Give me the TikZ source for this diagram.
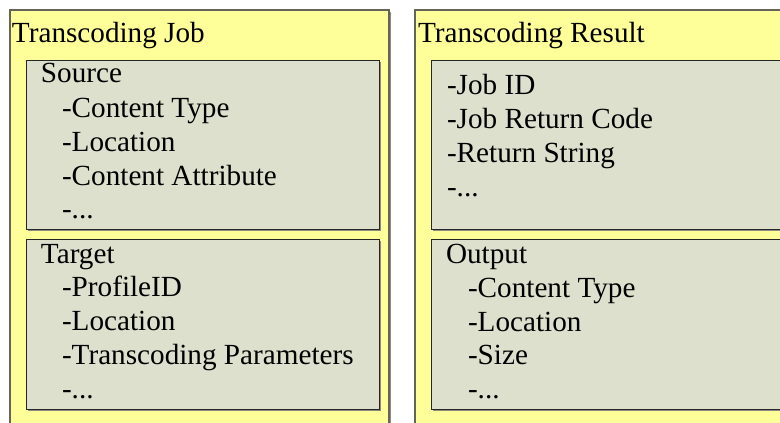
\documentclass[tikz,border=0pt]{standalone}
\usepackage{fontspec}
\setmainfont{Liberation Serif}
\definecolor{outerfill}{RGB}{255,255,153}
\definecolor{innerfill}{RGB}{221,224,204}
\definecolor{shadowgray}{RGB}{140,140,130}
\definecolor{outeredge}{RGB}{100,100,90}
\tikzset{
  txt/.style={anchor=base west, inner sep=0pt, outer sep=0pt,
    font=\fontsize{29.2}{34}\selectfont},
  outerbox/.style={fill=outerfill, draw=outeredge, line width=1.2pt},
  innerbox/.style={fill=innerfill, draw=black!85, line width=1pt},
  boxshadow/.style={fill=shadowgray},
}
\begin{document}
\begin{tikzpicture}[x=1pt,y=-1pt]
\useasboundingbox (0,0) rectangle (780,423);
\fill[white] (0,0) rectangle (780,423);
\clip (0,0) rectangle (780,423);

% outer containers
\fill[boxshadow] (11.5,11.5) rectangle (390.5,440);
\draw[outerbox] (10,10) rectangle (389,440);
\fill[boxshadow] (416.5,11.5) rectangle (800,440);
\draw[outerbox] (415,10) rectangle (800,440);

% inner panels
\fill[boxshadow] (27.5,61.5) rectangle (380.5,230.5);
\draw[innerbox] (26,60) rectangle (379,229);
\fill[boxshadow] (27.5,240.5) rectangle (380.5,410.5);
\draw[innerbox] (26,239) rectangle (379,409);
\fill[boxshadow] (432.5,61.5) rectangle (800,230.5);
\draw[innerbox] (431,60) rectangle (800,229);
\fill[boxshadow] (432.5,240.5) rectangle (800,410.5);
\draw[innerbox] (431,239) rectangle (800,409);

% titles
\node[txt] (jobtitle) at (12,42) {Transcoding Job};
\node[txt] (restitle) at (418,42) {Transcoding Result};

% source panel
\node[txt] (src) at (41,82) {Source};
\node[txt] (src1) at (62,117) {-Content Type};
\node[txt] (src2) at (62,151) {-Location};
\node[txt] (src3) at (62,185) {-Content Attribute};
\node[txt] (src4) at (62,218) {-...};

% target panel
\node[txt] (tgt) at (41,263) {Target};
\node[txt] (tgt1) at (62,296) {-ProfileID};
\node[txt] (tgt2) at (62,330) {-Location};
\node[txt] (tgt3) at (62,364) {-Transcoding Parameters};
\node[txt] (tgt4) at (62,398) {-...};

% result panel
\node[txt] (res1) at (447,94) {-Job ID};
\node[txt] (res2) at (447,128) {-Job Return Code};
\node[txt] (res3) at (447,162) {-Return String};
\node[txt] (res4) at (447,196) {-...};

% output panel
\node[txt] (out) at (446,263) {Output};
\node[txt] (out1) at (468,297) {-Content Type};
\node[txt] (out2) at (468,331) {-Location};
\node[txt] (out3) at (468,364) {-Size};
\node[txt] (out4) at (468,398) {-...};
\end{tikzpicture}
\end{document}
